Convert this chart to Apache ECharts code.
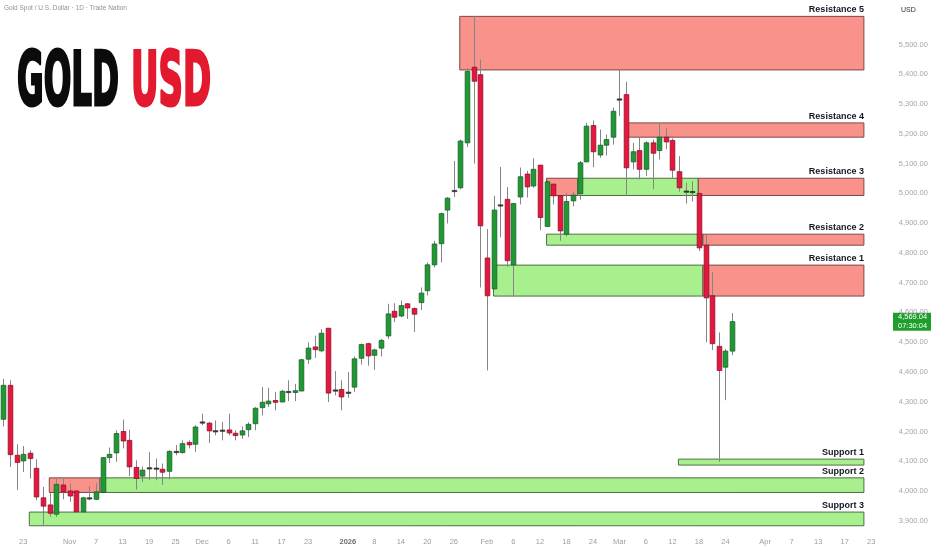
<!DOCTYPE html>
<html><head><meta charset="utf-8">
<script src="https://cdn.jsdelivr.net/npm/echarts@6/dist/echarts.min.js"></script>
<style>html,body{margin:0;padding:0;background:#fff;overflow:hidden}#c{width:932px;height:550px}</style>
</head><body><div id="c"></div>
<script>
// ---------- data ----------
const firstDate = '2025-10-20';
const holidays = ['2025-12-25', '2026-01-01'];
const slotCount = 134;

const opens  = [4241,4355,4120,4101,4127,4076,3977,3953,3922,4020,4000,4000,3930,3974,3972,3995,4112,4128,4200,4170,
                4079,4050,4075,4076,4073,4066,4130,4129,4163,4157,4229,4228,4201,4203,4205,4194,4188,4206,4226,4280,
                4293,4304,4299,4335,4331,4336,4443,4484,4471,4547,4336,4341,4331,4349,4446,4495,4456,4480,4521,4604,
                4588,4629,4613,4633,4673,4760,4831,4944,5006,5019,5170,5424,5399,4783,4679,4958,4980,4760,4988,5065,
                5025,5095,4889,5031,4992,4863,4975,4999,5106,5228,5129,5162,5189,5314,5332,5106,5144,5081,5170,5144,
                5189,5178,5073,5007,5005,5000,4826,4656,4486,4416,4470];
const highs  = [4377,4372,4157,4151,4137,4106,4014,3993,4040,4042,4025,4001,3980,4016,4026,4113,4146,4204,4240,4206,
                4103,4082,4131,4109,4092,4137,4154,4170,4170,4221,4260,4232,4237,4232,4260,4204,4217,4231,4282,4349,
                4347,4333,4340,4372,4360,4444,4500,4522,4544,4547,4403,4372,4400,4452,4495,4498,4478,4511,4629,4631,
                4640,4631,4617,4684,4768,4841,4936,4988,5109,5181,5421,5595,5450,4880,4992,5089,5021,4966,5087,5076,
                5118,5095,5044,5033,4995,5003,5006,5109,5237,5245,5215,5198,5288,5416,5375,5170,5189,5175,5181,5237,
                5218,5185,5125,5036,5041,5000,4863,4735,4533,4477,4598];
const lows   = [4217,4081,4003,4064,4042,3969,3886,3913,3913,3972,3964,3928,3928,3969,3969,3995,4094,4098,4143,4050,
                4005,4030,4036,4036,4020,4039,4120,4126,4143,4131,4221,4161,4187,4170,4187,4170,4175,4181,4204,4254,
                4282,4271,4299,4302,4302,4335,4427,4447,4466,4299,4321,4271,4313,4333,4425,4421,4407,4452,4511,4567,
                4584,4578,4534,4608,4657,4751,4768,4899,4988,5014,5156,5100,4684,4405,4679,4852,4753,4653,4963,4986,
                5019,4876,4889,4963,4841,4855,4956,4979,5106,5088,5120,5127,5164,5260,4992,5081,5047,5058,5014,5114,
                5148,5052,5006,4966,4973,4806,4500,4474,4098,4305,4456];
const closes = [4355,4122,4096,4123,4109,3980,3949,3925,4022,3997,3983,3930,3977,3976,3997,4112,4123,4193,4168,4081,
                4042,4070,4077,4074,4063,4133,4132,4159,4155,4215,4231,4202,4200,4202,4195,4186,4202,4224,4278,4298,
                4302,4298,4335,4330,4337,4441,4480,4475,4530,4329,4339,4316,4329,4444,4492,4454,4474,4506,4595,4584,
                4623,4615,4594,4665,4760,4830,4932,4984,5010,5176,5410,5377,4891,4656,4944,4961,4774,4966,5056,5022,
                5081,4919,5039,4992,4874,4973,4994,5103,5226,5140,5162,5181,5276,5317,5086,5140,5081,5170,5135,5189,
                5173,5078,5019,5005,5004,4817,4649,4495,4405,4470,4569.04];

const xTickDates = ['2025-10-23','2025-11-03','2025-11-07','2025-11-13','2025-11-19','2025-11-25','2025-12-01','2025-12-05',
                    '2025-12-11','2025-12-17','2025-12-23','2026-01-02','2026-01-08','2026-01-14','2026-01-20','2026-01-26',
                    '2026-02-02','2026-02-06','2026-02-12','2026-02-18','2026-02-24','2026-03-02','2026-03-06','2026-03-12',
                    '2026-03-18','2026-03-24','2026-04-01','2026-04-07','2026-04-13','2026-04-17','2026-04-23'];
const xTickTexts = ['23','Nov','7','13','19','25','Dec','6','11','17','23','2026','8','14','20','26',
                    'Feb','6','12','18','24','Mar','6','12','18','24','Apr','7','13','17','23'];
const yLabelMin = 3900, yLabelMax = 5500, yLabelStep = 100;

const zoneNames = ['Resistance 5','Resistance 4','Resistance 3','Resistance 2','Resistance 1','Support 1','Support 2','Support 3'];
const zoneLow   = [5415, 5189, 4993, 4826, 4655, 4087, 3995, 3883];
const zoneHigh  = [5595, 5237, 5051, 4863, 4759, 4107, 4044, 3929];
const zoneEnd   = 129.9;
// segments: zone index, start bar, end bar, kind (R = red, S = green)
const segZone  = [0, 1, 2, 2, 2, 3, 3, 4, 4, 5, 6, 6, 7];
const segStart = [68.9, 94.25, 82, 86.7, 104.9, 82, 105.6, 74, 105.6, 101.9, 6.94, 14.6, 3.92];
const segEnd   = [129.9, 129.9, 86.7, 104.9, 129.9, 105.6, 129.9, 105.6, 129.9, 129.9, 14.6, 129.9, 129.9];
const segKind  = ['R','R','R','S','R','S','R','S','R','S','R','S','S'];

const lastPrice = 4569.04;
const countdown = '07:30:04';
const titleText = 'Gold Spot / U.S. Dollar \u00b7 1D \u00b7 Trade Nation';

// ---------- build ----------
const categories = [];
(function(){
  const p = firstDate.split('-').map(Number);
  const d = new Date(Date.UTC(p[0], p[1]-1, p[2]));
  while (categories.length < slotCount) {
    const s = d.toISOString().slice(0,10), w = d.getUTCDay();
    if (w !== 0 && w !== 6 && holidays.indexOf(s) < 0) categories.push(s);
    d.setUTCDate(d.getUTCDate()+1);
  }
})();
const tickMap = {};
xTickDates.forEach((d,k)=>{ tickMap[d] = xTickTexts[k]; });

const candleData = opens.map((o,i)=>[i, o, highs[i], lows[i], closes[i]]);
const segData = segZone.map((z,k)=>[segStart[k], segEnd[k], zoneLow[z], zoneHigh[z], segKind[k]==='R'?1:0]);
const labelData = zoneNames.map((n,k)=>[zoneEnd, zoneHigh[k], n]);

const chart = echarts.init(document.getElementById('c'), null, {renderer:'canvas'});

const fmtPrice = v => v.toLocaleString('en-US',{minimumFractionDigits:2, maximumFractionDigits:2});

function renderCandle(params, api){
  const i = api.value(0), o = api.value(1), h = api.value(2), l = api.value(3), c = api.value(4);
  const pO = api.coord([i,o]), pC = api.coord([i,c]), pH = api.coord([i,h]), pL = api.coord([i,l]);
  const bw = api.size([1,0])[0]*0.7;
  const up = c >= o;
  const x = Math.round(pO[0]);
  const top = Math.min(pO[1],pC[1]), bot = Math.max(pO[1],pC[1]);
  const doji = bot - top < 1.5;
  return {type:'group', children:[
    {type:'line', shape:{x1:x+0.5,y1:pH[1],x2:x+0.5,y2:pL[1]}, style:{stroke:'#858585',lineWidth:1}},
    {type:'rect', shape:{x:x+0.5-bw/2, y:doji?(top+bot)/2-0.6:top, width:bw, height:doji?1.2:bot-top},
     style:{fill: doji?'#333':(up?'#1f9a33':'#e5173f'), stroke: doji?'#333':(up?'#16602a':'#8e1028'), lineWidth:0.8}}
  ]};
}
function renderZone(params, api){
  const a = api.coord([api.value(0), api.value(3)]);
  const b = api.coord([api.value(1), api.value(2)]);
  const red = api.value(4) === 1;
  return {type:'rect', shape:{x:a[0], y:a[1], width:b[0]-a[0], height:b[1]-a[1]},
    style:{fill: red?'#f8928b':'#a8f08e', stroke: red?'#7a4a47':'#4d6e44', lineWidth:1}};
}
function renderLabel(params, api){
  const p = api.coord([api.value(0), api.value(1)]);
  return {type:'text', x:p[0], y:p[1]-2, style:{text: labelData[params.dataIndex][2], align:'right', verticalAlign:'bottom',
    fill:'#131722', font:'bold 9px "Liberation Sans", Arial, sans-serif'}};
}

chart.setOption({
  animation:false,
  backgroundColor:'#ffffff',
  grid:{left:0, right:44.25, top:-1.5, bottom:14.4, containLabel:false},
  xAxis:[
    {type:'category', data:categories, boundaryGap:true,
     axisLine:{show:false}, axisTick:{show:false}, splitLine:{show:false},
     axisLabel:{interval:0, margin:2, fontSize:7.5, color:'#9a9da5', fontFamily:'"Liberation Sans", Arial, sans-serif',
       formatter:(v)=>{ const t = tickMap[v]; if(!t) return ''; return /^\d{4}$/.test(t) ? '{b|'+t+'}' : t; },
       rich:{b:{fontWeight:'bold', color:'#6a6d75', fontSize:7.5}}}},
    {type:'value', min:-0.5, max:slotCount-0.5, show:false}
  ],
  yAxis:{type:'value', position:'right', min:3850, max:5650, interval:50, scale:true,
    axisLine:{show:false}, axisTick:{show:false}, splitLine:{show:false},
    axisLabel:{margin:11, fontSize:7.5, color:'#a3a6ae', fontFamily:'"Liberation Sans", Arial, sans-serif',
      formatter:(v)=> (v % yLabelStep === 0 && v >= yLabelMin && v <= yLabelMax) ? fmtPrice(v) : ''}},
  series:[
    {type:'custom', name:'zones', xAxisIndex:1, renderItem:renderZone, data:segData, encode:{x:[0,1], y:[2,3]}, z:1, silent:true},
    {type:'custom', name:'gold', xAxisIndex:0, renderItem:renderCandle, data:candleData, encode:{x:0, y:[1,2,3,4]}, z:3},
    {type:'custom', name:'labels', xAxisIndex:1, renderItem:renderLabel, data:labelData.map(d=>[d[0],d[1]]), encode:{x:0,y:1}, z:4}
  ]
});

// ---------- overlays ----------
const ctx = document.createElement('canvas').getContext('2d');
const logoFont = '"Liberation Sans Narrow", "DejaVu Sans Condensed", "DejaVu Sans", sans-serif';
const logoSize = 74;
ctx.font = 'bold ' + logoSize + 'px ' + logoFont;
const wGold = ctx.measureText('GOLD').width, wUsd = ctx.measureText('USD').width;
const sG = 102/wGold, sU = 80/wUsd;
const py = chart.convertToPixel({yAxisIndex:0}, lastPrice);

chart.setOption({graphic:[
  {type:'text', left:4, top:5, style:{text:titleText, fill:'#8f929a', font:'6.5px "Liberation Sans", Arial, sans-serif'}},
  {type:'text', x:17, y:86, scaleX:sG, scaleY:1, z:10, style:{text:'GOLD', x:0, y:0, verticalAlign:'middle', align:'left',
     font:'bold '+logoSize+'px '+logoFont, fill:'#0b0b0b', stroke:'#0b0b0b', lineWidth:3,
     shadowColor:'rgba(0,0,0,0.25)', shadowBlur:6, shadowOffsetY:4, shadowOffsetX:2}},
  {type:'text', x:131, y:86, scaleX:sU, scaleY:1, z:10, style:{text:'USD', x:0, y:0, verticalAlign:'middle', align:'left',
     font:'bold '+logoSize+'px '+logoFont, fill:'#e3192f', stroke:'#e3192f', lineWidth:3,
     shadowColor:'rgba(0,0,0,0.25)', shadowBlur:6, shadowOffsetY:4, shadowOffsetX:2}},
  {type:'text', x:901, y:10, style:{text:'USD', fill:'#2a2e39', font:'7px "Liberation Sans", Arial, sans-serif', verticalAlign:'middle'}},
  {type:'rect', x:893, y:py-9, shape:{width:38, height:18}, style:{fill:'#1e9f2b'}},
  {type:'text', x:898, y:py-4.5, style:{text:fmtPrice(lastPrice), fill:'#fff', font:'7.5px "Liberation Sans", Arial, sans-serif', verticalAlign:'middle'}},
  {type:'text', x:898, y:py+4.5, style:{text:countdown, fill:'#fff', font:'7.5px "Liberation Sans", Arial, sans-serif', verticalAlign:'middle'}}
]});
</script>
</body></html>
